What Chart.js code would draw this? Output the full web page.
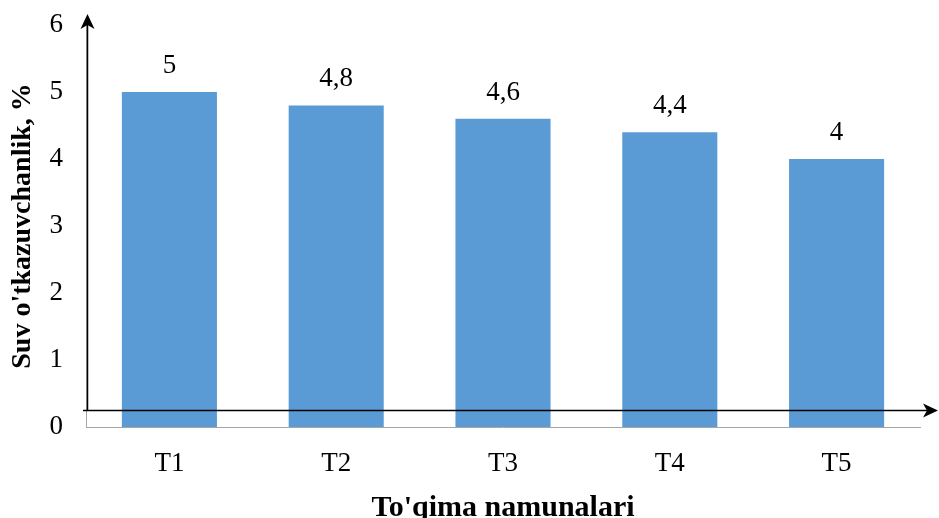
<!DOCTYPE html>
<html>
<head>
<meta charset="utf-8">
<title>Suv o'tkazuvchanlik</title>
<script src="https://cdn.jsdelivr.net/npm/chart.js@4.4.0/dist/chart.umd.min.js"></script>
<style>
  html, body { margin: 0; padding: 0; background: #fff; }
</style>
</head>
<body>
<canvas id="waterChart" width="939" height="518"></canvas>
<script>
// fabric samples and their water permeability, %
const samples = ['T1', 'T2', 'T3', 'T4', 'T5'];
const permeability = [5, 4.8, 4.6, 4.4, 4];
const yTicks = [0, 1, 2, 3, 4, 5, 6];

const serif = "'Liberation Serif', 'Times New Roman', serif";

// black arrows for the axes, drawn over the chart
const arrowAxes = {
    id: 'arrowAxes',
    afterDraw(chart) {
        const ctx = chart.ctx;
        const yScale = chart.scales.y;
        const area = chart.chartArea;
        const xLine = area.left + 1.5;
        const yLine = Math.round(yScale.getPixelForValue(0.25)) + 0.5;
        const right = chart.width - 1;
        const top = 14;

        ctx.save();
        ctx.strokeStyle = '#000';
        ctx.fillStyle = '#000';
        ctx.lineWidth = 1.5;

        ctx.beginPath();
        ctx.moveTo(xLine, yLine);
        ctx.lineTo(xLine, top + 6);
        ctx.moveTo(area.left - 3, yLine);
        ctx.lineTo(right - 6, yLine);
        ctx.stroke();

        // arrow heads
        ctx.beginPath();
        ctx.moveTo(xLine, top);
        ctx.lineTo(xLine - 7, top + 15);
        ctx.lineTo(xLine, top + 11);
        ctx.lineTo(xLine + 7, top + 15);
        ctx.closePath();
        ctx.fill();

        ctx.beginPath();
        ctx.moveTo(right, yLine);
        ctx.lineTo(right - 15, yLine - 7);
        ctx.lineTo(right - 11, yLine);
        ctx.lineTo(right - 15, yLine + 7);
        ctx.closePath();
        ctx.fill();
        ctx.restore();
    }
};

// value labels above each bar, decimal comma
const valueLabels = {
    id: 'valueLabels',
    afterDatasetsDraw(chart) {
        const ctx = chart.ctx;
        const meta = chart.getDatasetMeta(0);
        ctx.save();
        ctx.font = '27px ' + serif;
        ctx.fillStyle = '#000';
        ctx.textAlign = 'center';
        ctx.textBaseline = 'alphabetic';
        meta.data.forEach((bar, i) => {
            const text = String(permeability[i]).replace('.', ',');
            ctx.fillText(text, bar.x, bar.y - 19);
        });
        ctx.restore();
    }
};

new Chart(document.getElementById('waterChart'), {
    type: 'bar',
    data: {
        labels: samples,
        datasets: [{
            data: permeability,
            backgroundColor: '#5b9bd5',
            borderWidth: 0,
            categoryPercentage: 1,
            barPercentage: 0.57
        }]
    },
    options: {
        responsive: false,
        animation: false,
        layout: { padding: { top: 25, right: 19, left: 0, bottom: 0 } },
        plugins: {
            legend: { display: false },
            tooltip: { enabled: false }
        },
        scales: {
            x: {
                grid: { display: false, drawTicks: false },
                border: { display: true, color: '#a6a6a6', width: 1 },
                ticks: { color: '#000', font: { family: serif, size: 27 }, padding: 21 },
                title: {
                    display: true,
                    text: "To'qima namunalari",
                    color: '#000',
                    font: { family: serif, size: 30, weight: 'bold', lineHeight: 1.0 },
                    padding: { top: 0, bottom: -5 }
                },
                afterFit(scale) { scale.height = 91; }
            },
            y: {
                min: 0,
                max: 6,
                grid: { display: false, drawTicks: false },
                border: { display: true, color: '#a6a6a6', width: 1 },
                ticks: { color: '#000', font: { family: serif, size: 27 }, padding: 23 },
                afterBuildTicks(scale) {
                    scale.ticks = yTicks.map(v => ({ value: v }));
                },
                title: {
                    display: true,
                    text: "Suv o'tkazuvchanlik, %",
                    color: '#000',
                    font: { family: serif, size: 28, weight: 'bold', lineHeight: 1.2 },
                    padding: { top: 6, bottom: 0 }
                },
                afterFit(scale) {
                    scale.width = 86;
                    scale.paddingTop = 0;
                    scale.paddingBottom = 0;
                }
            }
        }
    },
    plugins: [arrowAxes, valueLabels]
});
</script>
</body>
</html>
